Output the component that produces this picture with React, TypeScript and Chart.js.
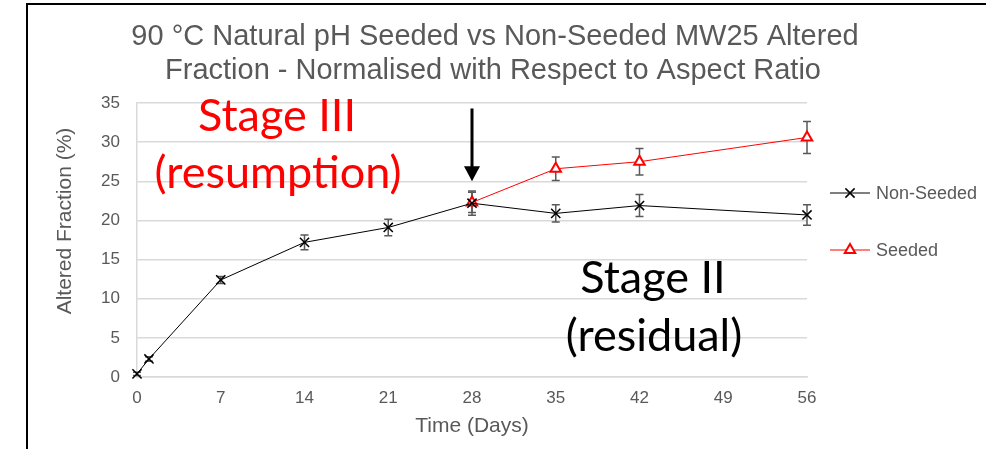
import React, { useEffect, useRef } from 'react';
import { Chart, registerables } from 'chart.js';
import { drawPoint } from 'chart.js/helpers';

Chart.register(...registerables);

// ---- data ----
const seriesNames = ['Non-Seeded', 'Seeded'];
const nonSeededDays = [0, 1, 7, 14, 21, 28, 35, 42, 56];
const nonSeededValues = [0.4, 2.3, 12.4, 17.2, 19.1, 22.2, 20.9, 21.9, 20.7];
const nonSeededErrors = [0.2, 0.3, 0.45, 0.95, 1.05, 1.55, 1.1, 1.4, 1.3];
const seededDays = [28, 35, 42, 56];
const seededValues = [22.3, 26.6, 27.5, 30.6];
const seededErrors = [1.3, 1.5, 1.7, 2.05];
const titleLines = [
  '90 °C Natural pH Seeded vs Non-Seeded MW25 Altered',
  'Fraction - Normalised with Respect to Aspect Ratio',
];
const xAxisTitle = 'Time (Days)';
const yAxisTitle = 'Altered Fraction (%)';
const xMin = 0, xMax = 56, xStep = 7;
const yMin = 0, yMax = 35, yStep = 5;
const stageIIILines = ['Stage III', '(resumption)'];
const stageIILines = ['Stage II', '(residual)'];
const arrowDay = 28;
const arrowFrom = 34.3;
const arrowTo = 25.0;

const GRAY = '#595959';
const SANS = '"Liberation Sans", Arial, sans-serif';
const HUMAN = 'Lato, "Open Sans", sans-serif';

const toPoints = (days: number[], vals: number[], errs: number[]) =>
  days.map((d, i) => ({ x: d, y: vals[i], err: errs[i] }));

const errorBarPlugin = {
  id: 'errorBars',
  beforeDatasetsDraw(chart: any) {
    const { ctx, scales } = chart;
    const x = scales.x, y = scales.y;
    ctx.save();
    ctx.strokeStyle = GRAY;
    ctx.lineWidth = 1.5;
    chart.data.datasets.forEach((ds: any) => {
      ds.data.forEach((p: any) => {
        const px = x.getPixelForValue(p.x);
        const top = y.getPixelForValue(p.y + p.err);
        const bot = y.getPixelForValue(p.y - p.err);
        ctx.beginPath();
        ctx.moveTo(px, top); ctx.lineTo(px, bot);
        ctx.moveTo(px - 4, top); ctx.lineTo(px + 4, top);
        ctx.moveTo(px - 4, bot); ctx.lineTo(px + 4, bot);
        ctx.stroke();
      });
    });
    ctx.restore();
  },
};

const decorPlugin = {
  id: 'decor',
  afterDraw(chart: any) {
    const { ctx, scales, chartArea } = chart;
    const x = scales.x, y = scales.y;
    ctx.save();
    // frame
    ctx.fillStyle = '#000';
    ctx.fillRect(26, 3, 2, chart.height - 3);
    ctx.fillRect(26, 3, chart.width - 26, 2);

    // title
    ctx.fillStyle = GRAY;
    ctx.font = `29px ${SANS}`;
    ctx.textAlign = 'center';
    ctx.textBaseline = 'middle';
    ctx.fillText(titleLines[0], 495, 37);
    ctx.fillText(titleLines[1], 493, 71);

    // y axis title
    ctx.save();
    ctx.translate(65, 221);
    ctx.rotate(-Math.PI / 2);
    ctx.font = `21px ${SANS}`;
    ctx.fillText(yAxisTitle, 0, 0);
    ctx.restore();

    // arrow
    const ax = x.getPixelForValue(arrowDay);
    const ay0 = y.getPixelForValue(arrowFrom);
    const ay1 = y.getPixelForValue(arrowTo);
    ctx.fillStyle = '#000';
    ctx.strokeStyle = '#000';
    ctx.lineWidth = 3;
    ctx.beginPath();
    ctx.moveTo(ax, ay0);
    ctx.lineTo(ax, ay1 - 14);
    ctx.stroke();
    ctx.beginPath();
    ctx.moveTo(ax - 8, ay1 - 15);
    ctx.lineTo(ax + 8, ay1 - 15);
    ctx.lineTo(ax, ay1);
    ctx.closePath();
    ctx.fill();

    // stage texts
    ctx.textAlign = 'center';
    ctx.textBaseline = 'alphabetic';
    ctx.font = `45px ${HUMAN}`;
    ctx.fillStyle = '#ff0000';
    ctx.fillText(stageIIILines[0], chartArea.left + 140, 131);
    ctx.fillText(stageIIILines[1], chartArea.left + 141, 188);
    ctx.fillStyle = '#000';
    ctx.fillText(stageIILines[0], chartArea.left + 516, 293);
    ctx.fillText(stageIILines[1], chartArea.left + 517, 351);

    // legend
    const legendY = [193, 250];
    chart.data.datasets.forEach((ds: any, i: number) => {
      const ly = legendY[i];
      ctx.strokeStyle = ds.borderColor;
      ctx.lineWidth = 1;
      ctx.beginPath();
      ctx.moveTo(830, ly);
      ctx.lineTo(870, ly);
      ctx.stroke();
      ctx.strokeStyle = ds.pointBorderColor;
      ctx.fillStyle = ds.pointBackgroundColor;
      ctx.lineWidth = ds.pointBorderWidth;
      drawPoint(ctx, { pointStyle: ds.pointStyle, radius: ds.pointRadius, rotation: 0, borderWidth: ds.pointBorderWidth }, 850, ly);
      ctx.fillStyle = GRAY;
      ctx.font = `18px ${SANS}`;
      ctx.textAlign = 'left';
      ctx.textBaseline = 'middle';
      ctx.fillText(ds.label, 876, ly + 1);
    });
    ctx.restore();
  },
};

export default function App() {
  const ref = useRef<HTMLCanvasElement | null>(null);
  useEffect(() => {
    if (!ref.current) return;
    const chart = new Chart(ref.current, {
      type: 'line',
      data: {
        datasets: [
          {
            label: seriesNames[0],
            data: toPoints(nonSeededDays, nonSeededValues, nonSeededErrors),
            borderColor: '#000000',
            borderWidth: 1,
            pointStyle: 'crossRot',
            pointRadius: 6.5,
            pointBorderWidth: 1.5,
            pointBorderColor: '#000000',
            pointBackgroundColor: '#000000',
            clip: false,
          } as any,
          {
            label: seriesNames[1],
            data: toPoints(seededDays, seededValues, seededErrors),
            borderColor: '#ff0000',
            borderWidth: 1,
            pointStyle: 'triangle',
            pointRadius: 6,
            pointBorderWidth: 2,
            pointBorderColor: '#ff0000',
            pointBackgroundColor: '#ffffff',
            clip: false,
          } as any,
        ],
      },
      options: {
        responsive: false,
        animation: false,
        events: [],
        layout: { padding: { left: 30, right: 179, top: 103, bottom: 0 } },
        plugins: {
          legend: { display: false },
          tooltip: { enabled: false },
          title: { display: false },
        },
        scales: {
          x: {
            type: 'linear',
            min: xMin,
            max: xMax,
            ticks: { stepSize: xStep, color: GRAY, font: { family: SANS, size: 17 }, padding: 11, maxRotation: 0 },
            grid: { display: false, drawTicks: false },
            border: { display: true, color: '#d9d9d9', width: 1.5 },
            title: {
              display: true,
              text: xAxisTitle,
              color: GRAY,
              font: { family: SANS, size: 21, lineHeight: 1.2 },
              padding: { top: 0, bottom: 10 },
            },
            afterFit: (s: any) => { s.height = 72; },
          },
          y: {
            type: 'linear',
            min: yMin,
            max: yMax,
            ticks: { stepSize: yStep, color: GRAY, font: { family: SANS, size: 17 }, padding: 17 },
            grid: { color: '#d9d9d9', lineWidth: 1.5, drawTicks: false },
            border: { display: true, color: '#d9d9d9', width: 1.5 },
            title: { display: false },
            afterFit: (s: any) => { s.width = 107; },
          },
        },
      },
      plugins: [errorBarPlugin, decorPlugin],
    });
    return () => chart.destroy();
  }, []);
  return (
    <div style={{ position: 'fixed', left: 0, top: 0, width: 986, height: 449, background: '#fff' }}>
      <canvas ref={ref} width={986} height={449} style={{ display: 'block' }} />
    </div>
  );
}
